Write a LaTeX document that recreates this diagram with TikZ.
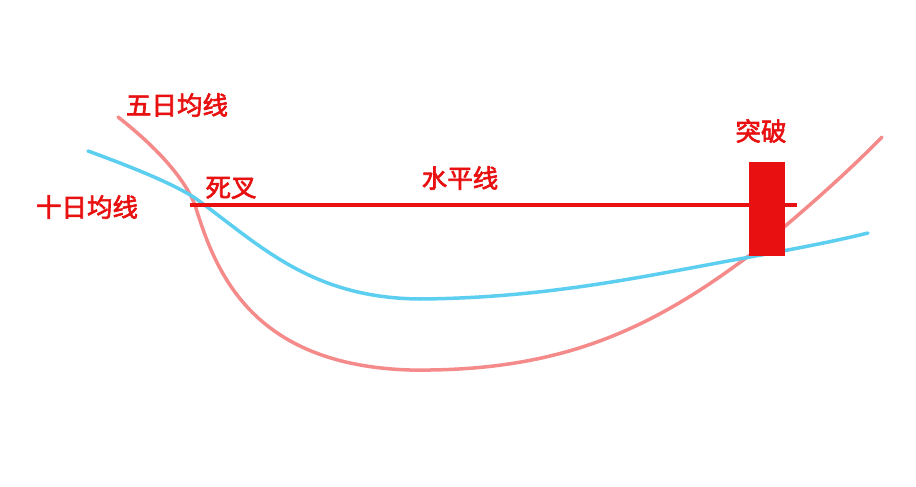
\documentclass[tikz,border=0pt]{standalone}
\usepackage{fontspec}
\newfontfamily\cjk[AutoFakeBold=2.5]{Noto Sans CJK SC}
\definecolor{lred}{HTML}{F58A8A}
\definecolor{lblue}{HTML}{5CCFF0}
\definecolor{dred}{HTML}{E81010}
\tikzset{lbl/.style={text=dred,font=\cjk\bfseries\fontsize{25.5}{28}\selectfont,inner sep=0pt}}
\begin{document}
\begin{tikzpicture}[x=1pt,y=-1pt]
\useasboundingbox[fill=white] (0,0) rectangle (916,487);
\draw[lred,line width=3.5pt,line cap=round] (118,117) .. controls (160,150) and (185,180) .. (195,205)
  .. controls (215,270) and (250,365) .. (410,370)
  .. controls (560,372) and (650,330) .. (750,255)
  .. controls (800,215) and (850,170) .. (882,137);
\draw[lblue,line width=3.5pt,line cap=round] (88,151) .. controls (140,170) and (175,185) .. (195,198)
  .. controls (260,245) and (310,298) .. (420,299)
  .. controls (550,298) and (650,275) .. (750,257)
  .. controls (800,248) and (840,240) .. (868,233);
\coordinate (h1) at (190,205);
\coordinate (h2) at (797,205);
\draw[dred,line width=4pt] (h1) -- (h2);
\node[fill=dred,minimum width=36pt,minimum height=94pt,inner sep=0pt] (bar) at (767,209) {};
\node[lbl] (wu) at (177,105) {五日均线};
\node[lbl] (shi) at (87,207) {十日均线};
\node[lbl] (si) at (231,188) {死叉};
\node[lbl] (sp) at (460,178) {水平线};
\node[lbl] (tp) at (761,131) {突破};
\end{tikzpicture}
\end{document}
